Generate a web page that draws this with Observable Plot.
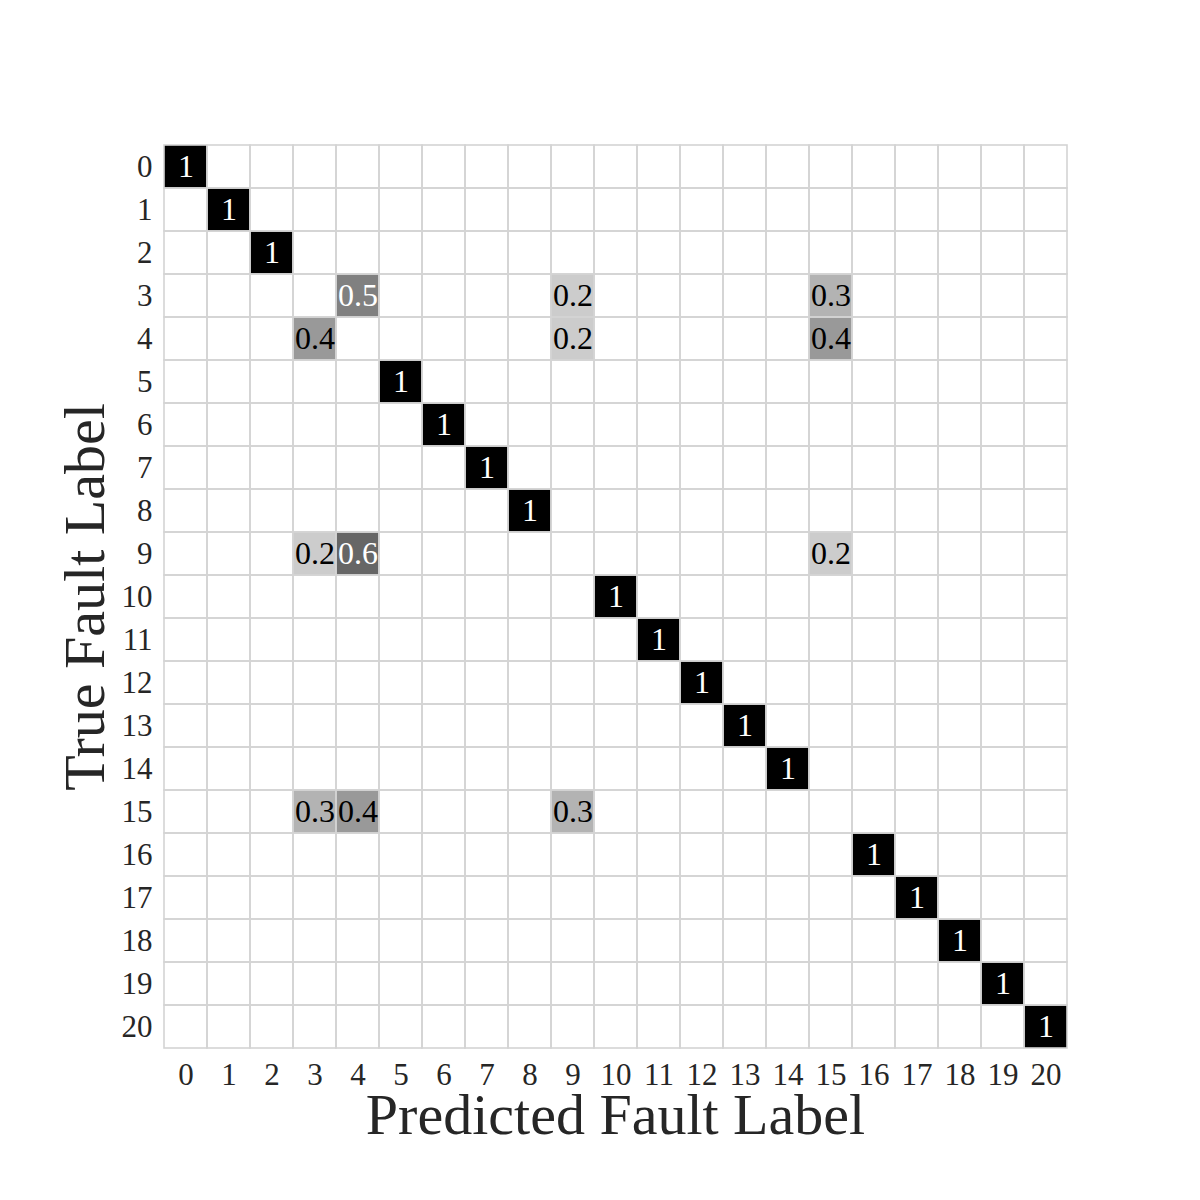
<!DOCTYPE html>
<html>
<head>
<meta charset="utf-8">
<script src="https://cdn.jsdelivr.net/npm/d3@7"></script>
<script src="https://cdn.jsdelivr.net/npm/@observablehq/plot@0.6"></script>
<style>
  html, body { margin: 0; padding: 0; background: #fff; }
</style>
</head>
<body>
<div id="chart"></div>
<script>
// Class labels (ticks on both axes)
const labels = ["0","1","2","3","4","5","6","7","8","9","10","11","12","13","14","15","16","17","18","19","20"];

// Non-zero entries of the normalized confusion matrix
const trueLabel = ["0","1","2","3","3","3","4","4","4","5","6","7","8","9","9","9","10","11","12","13","14","15","15","15","16","17","18","19","20"];
const predLabel = ["0","1","2","4","9","15","3","9","15","5","6","7","8","3","4","15","10","11","12","13","14","3","4","9","16","17","18","19","20"];
const values    = [1,1,1,0.5,0.2,0.3,0.4,0.2,0.4,1,1,1,1,0.2,0.6,0.2,1,1,1,1,1,0.3,0.4,0.3,1,1,1,1,1];

const xTitle = "Predicted Fault Label";
const yTitle = "True Fault Label";

const nonzero = trueLabel.map((t, i) => ({t, p: predLabel[i], v: values[i]}));
const lookup = new Map(nonzero.map(d => [d.t + "|" + d.p, d.v]));
const allCells = [];
for (const t of labels) for (const p of labels) allCells.push({t, p, v: lookup.get(t + "|" + p) ?? 0});

const fmt = v => (v === 1 ? "1" : String(v));

const chart = Plot.plot({
  width: 1200,
  height: 1200,
  marginLeft: 162,
  marginRight: 132,
  marginTop: 143,
  marginBottom: 150,
  style: {fontFamily: "'Liberation Serif', 'DejaVu Serif', serif", fontSize: "30px", color: "#262626", background: "#fff"},
  x: {domain: labels, padding: 0, label: null},
  y: {domain: labels, padding: 0, label: null},
  color: {type: "linear", domain: [0, 1], range: ["#ffffff", "#000000"]},
  marks: [
    Plot.cell(allCells, {x: "p", y: "t", fill: "v"}),
    Plot.cell(allCells, {x: "p", y: "t", fill: "none", stroke: "#d4d4d4", strokeWidth: 1.6}),
    Plot.text(nonzero, {
      x: "p", y: "t", text: d => fmt(d.v),
      fill: d => (d.v > 0.45 ? "#ffffff" : "#000000"),
      fontSize: 32
    }),
    Plot.axisX({tickSize: 0, tickPadding: 12, fontSize: 31, label: null}),
    Plot.axisY({tickSize: 0, tickPadding: 10, fontSize: 31, label: null}),
    Plot.text([xTitle], {frameAnchor: "bottom", dy: 65, lineAnchor: "middle", textAnchor: "middle", fontSize: 58, text: d => d, fill: "#262626"}),
    Plot.text([yTitle], {frameAnchor: "left", dx: -77, rotate: -90, lineAnchor: "middle", textAnchor: "middle", fontSize: 58, text: d => d, fill: "#262626"})
  ]
});
document.getElementById("chart").appendChild(chart);
</script>
</body>
</html>
